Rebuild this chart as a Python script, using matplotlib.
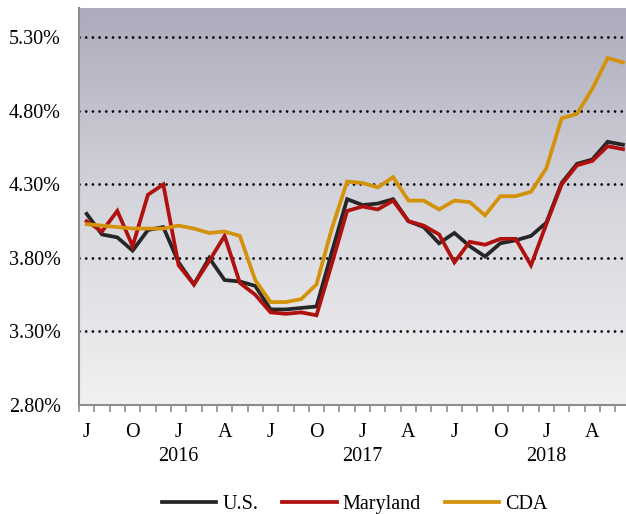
import numpy as np
import matplotlib
matplotlib.use("Agg")
import matplotlib.pyplot as plt
from matplotlib.colors import LinearSegmentedColormap

# monthly values, Jul 2015 - Jun 2018
us = [4.10, 3.96, 3.94, 3.85, 3.99, 4.01, 3.77, 3.62, 3.80, 3.65,
      3.64, 3.61, 3.45, 3.45, 3.46, 3.47, 3.84, 4.20, 4.16, 4.17,
      4.20, 4.05, 4.01, 3.90, 3.97, 3.88, 3.81, 3.90, 3.92, 3.95,
      4.04, 4.31, 4.44, 4.47, 4.59, 4.57]
maryland = [4.05, 3.98, 4.12, 3.88, 4.23, 4.30, 3.75, 3.62, 3.78, 3.95,
            3.63, 3.55, 3.43, 3.42, 3.43, 3.41, 3.76, 4.12, 4.15, 4.13,
            4.19, 4.05, 4.02, 3.96, 3.77, 3.91, 3.89, 3.93, 3.93, 3.75,
            4.03, 4.30, 4.43, 4.46, 4.56, 4.54]
cda = [4.03, 4.02, 4.01, 4.00, 4.00, 4.00, 4.02, 4.00, 3.97, 3.98,
       3.95, 3.65, 3.50, 3.50, 3.52, 3.62, 4.00, 4.32, 4.31, 4.28,
       4.35, 4.19, 4.19, 4.13, 4.19, 4.18, 4.09, 4.22, 4.22, 4.25,
       4.41, 4.75, 4.78, 4.95, 5.16, 5.13]
month_labels = ["J", "O", "J", "A", "J", "O", "J", "A", "J", "O", "J", "A"]
year_labels = ["2016", "2017", "2018"]
yticks = [2.80, 3.30, 3.80, 4.30, 4.80, 5.30]

plt.rcParams["font.family"] = ["Liberation Serif", "DejaVu Serif"]

fig = plt.figure(figsize=(6.26, 5.14), dpi=100)
ax = fig.add_axes([79 / 626, 109 / 514, 551.6 / 626, 397 / 514])

x = np.arange(len(us))

# gradient background
cmap = LinearSegmentedColormap.from_list("bg", ["#f1f1f2", "#d6d6dd", "#acabbc"])
ax.imshow(np.linspace(0, 1, 256).reshape(-1, 1), cmap=cmap, origin="lower",
          extent=[-0.5, 35.5, 2.8, 5.5], aspect="auto", zorder=0)

for yv in yticks[1:]:
    ax.axhline(yv, color="black", lw=2.0, linestyle=(0, (0.01, 2.4)),
               dash_capstyle="round", zorder=1)

ax.plot(x, us, color="#262626", lw=2.7, label="U.S.", solid_joinstyle="miter", zorder=3)
ax.plot(x, maryland, color="#b0100e", lw=2.7, label="Maryland", solid_joinstyle="miter", zorder=4)
ax.plot(x, cda, color="#d4920a", lw=2.7, label="CDA", solid_joinstyle="miter", zorder=5)

ax.set_xlim(-0.5, 35.5)
ax.set_ylim(2.8, 5.5)

ax.set_yticks(yticks)
ax.set_yticklabels(["%.2f%%" % v for v in yticks], fontsize=14.5)
ax.tick_params(axis="y", length=0, pad=13)

ax.set_xticks(np.arange(0, 36, 3))
ax.set_xticklabels(month_labels, fontsize=14.5)
ax.set_xticks(np.arange(-0.5, 36, 1), minor=True)
ax.tick_params(axis="x", which="major", length=0, pad=13)
ax.tick_params(axis="x", which="minor", length=5, width=1.2, color="#8c8c8c", direction="out")

for i, yr in enumerate(year_labels):
    ax.text(6 + 12 * i, -0.107, yr, transform=ax.get_xaxis_transform(),
            ha="center", va="top", fontsize=14.5)

for s in ["top", "right"]:
    ax.spines[s].set_visible(False)
for s in ["left", "bottom"]:
    ax.spines[s].set_color("#8c8c8c")
    ax.spines[s].set_linewidth(1.5)

ax.legend(loc="center", bbox_to_anchor=(0.5, -0.25), ncol=3, frameon=False,
          fontsize=14.5, handlelength=2.7, handletextpad=0.3, columnspacing=1.2)

fig.savefig("out.png", dpi=100)
